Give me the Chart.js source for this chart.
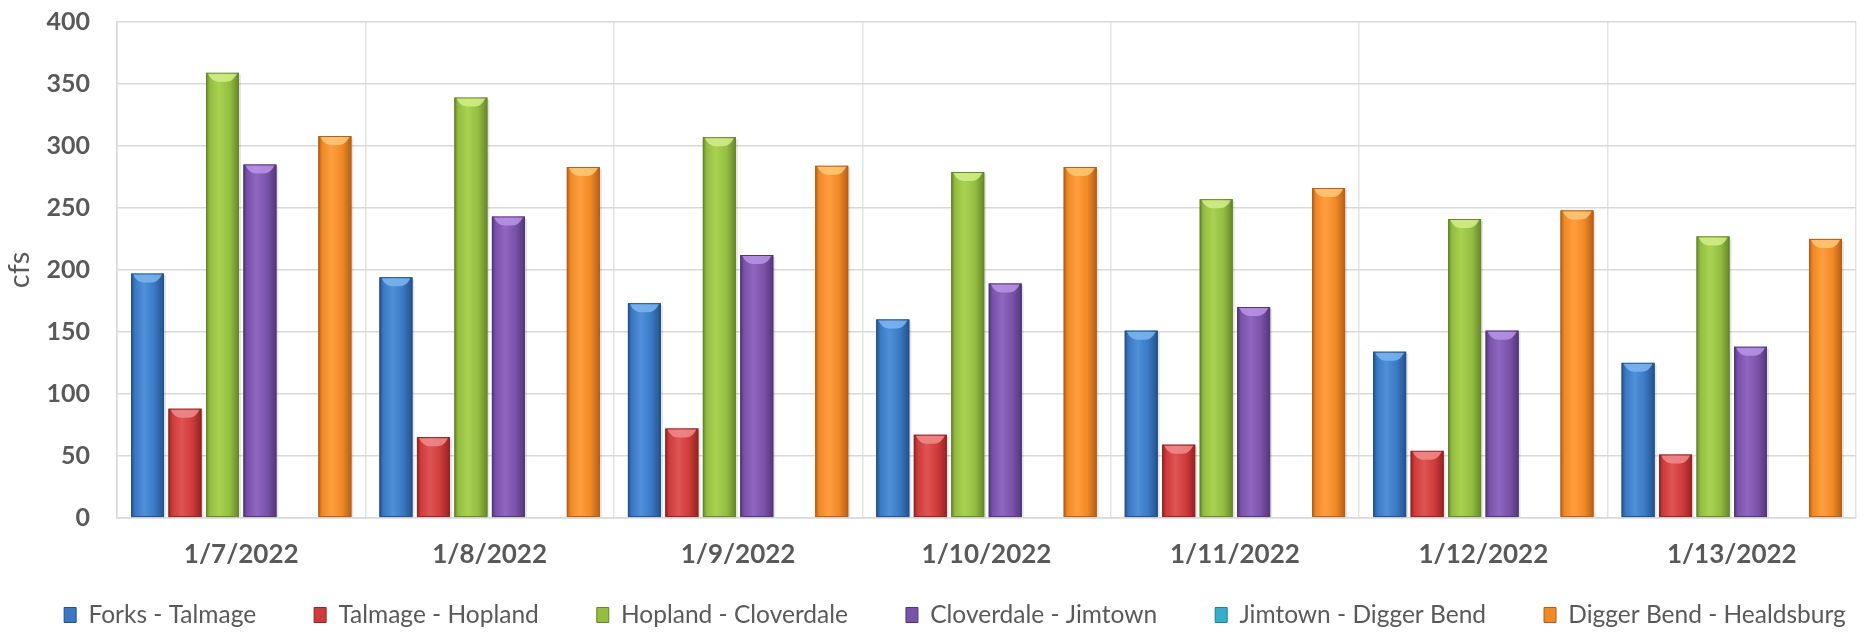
<!DOCTYPE html>
<html>
<head>
<meta charset="utf-8">
<script src="https://cdn.jsdelivr.net/npm/chart.js@4/dist/chart.umd.min.js"></script>
<style>
  html, body { margin: 0; padding: 0; background: #ffffff; }
  #wrap { width: 1870px; height: 637px; }
</style>
</head>
<body>
<div id="wrap"><canvas id="c" width="1870" height="637"></canvas></div>
<script>
// ---- data ----
const categories = ['1/7/2022', '1/8/2022', '1/9/2022', '1/10/2022', '1/11/2022', '1/12/2022', '1/13/2022'];
const seriesNames = ['Forks - Talmage', 'Talmage - Hopland', 'Hopland - Cloverdale', 'Cloverdale - Jimtown', 'Jimtown - Digger Bend', 'Digger Bend - Healdsburg'];
const forksTalmage       = [197, 194, 173, 160, 151, 134, 125];
const talmageHopland     = [88, 65, 72, 67, 59, 54, 51];
const hoplandCloverdale  = [359, 339, 307, 279, 257, 241, 227];
const cloverdaleJimtown  = [285, 243, 212, 189, 170, 151, 138];
const jimtownDiggerBend  = [null, null, null, null, null, null, null];
const diggerBendHealdsburg = [308, 283, 284, 283, 266, 248, 225];
const yTicks = [0, 50, 100, 150, 200, 250, 300, 350, 400];
const yTitle = 'cfs';

// ---- styles ----
const palettes = [
  { main: '#3A78C3', edge: '#24518A', light: '#4F90D8', cap: '#7DB6F0' },
  { main: '#CF3B3B', edge: '#922424', light: '#DE5454', cap: '#F08C8C' },
  { main: '#94BE42', edge: '#66862A', light: '#A8D250', cap: '#D2EE8A' },
  { main: '#7B52AA', edge: '#523778', light: '#8F66C0', cap: '#B894E6' },
  { main: '#36AECB', edge: '#227E98', light: '#50C4DE', cap: '#8EE0F2' },
  { main: '#F08926', edge: '#B45F18', light: '#FF9E3E', cap: '#FFC878' }
];
const seriesData = [forksTalmage, talmageHopland, hoplandCloverdale, cloverdaleJimtown, jimtownDiggerBend, diggerBendHealdsburg];

const FONT = "Lato, 'Open Sans', sans-serif";
const TXT = '#595959';

const barLook = {
  id: 'barLook',
  afterDatasetsDraw(chart) {
    const ctx = chart.ctx;
    chart.data.datasets.forEach((ds, i) => {
      const meta = chart.getDatasetMeta(i);
      if (meta.hidden) return;
      const p = palettes[i];
      meta.data.forEach((bar, j) => {
        if (ds.data[j] == null) return;
        const { x, y, base, width } = bar.getProps(['x', 'y', 'base', 'width'], true);
        const l = x - width / 2, r = x + width / 2;
        const h = base - y;
        ctx.save();
        ctx.fillStyle = 'rgba(0,0,0,0.10)';
        ctx.fillRect(r, y + 2, 2, h - 2);
        const g = ctx.createLinearGradient(l, 0, r, 0);
        g.addColorStop(0, p.edge);
        g.addColorStop(0.12, p.main);
        g.addColorStop(0.4, p.light);
        g.addColorStop(0.72, p.main);
        g.addColorStop(1, p.edge);
        ctx.fillStyle = g;
        ctx.fillRect(l, y, width, h);
        ctx.strokeStyle = p.edge;
        ctx.lineWidth = 1;
        ctx.strokeRect(l + 0.5, y + 0.5, width - 1, h - 1);
        if (h > 10) {
          ctx.beginPath();
          ctx.moveTo(l + 2, y + 1);
          ctx.lineTo(r - 2, y + 1);
          ctx.quadraticCurveTo(r - 6, y + 9, x + width * 0.12, y + 9);
          ctx.lineTo(x - width * 0.12, y + 9);
          ctx.quadraticCurveTo(l + 6, y + 9, l + 2, y + 1);
          ctx.closePath();
          ctx.fillStyle = p.cap;
          ctx.globalAlpha = 0.85;
          ctx.fill();
        }
        ctx.restore();
      });
    });
  }
};

const LEGEND_FONT = 24.5;
const LEGEND_PAD = 58;
const legendPlace = {
  id: 'legendPlace',
  beforeInit(chart) {
    const origFit = chart.legend.fit;
    chart.legend.fit = function () {
      const mw = this.maxWidth;
      this.maxWidth = 4000;
      origFit.call(this);
      this.maxWidth = mw;
      this.width = mw;
      this.height = 62;
    };
  },
  afterLayout(chart) {
    const lg = chart.legend;
    lg.top = 615 - LEGEND_PAD - LEGEND_FONT / 2;
    lg.bottom = chart.height;
    lg.left = -100;
    lg.right = chart.width + 140;
  }
};

const datasets = seriesNames.map((name, i) => ({
  label: name,
  data: seriesData[i],
  backgroundColor: palettes[i].main,
  borderColor: palettes[i].edge,
  borderWidth: 1
}));

new Chart(document.getElementById('c'), {
  type: 'bar',
  data: { labels: categories, datasets },
  plugins: [barLook, legendPlace],
  options: {
    responsive: false,
    animation: false,
    devicePixelRatio: 1,
    layout: { padding: { top: 22, right: 14, left: 0, bottom: 0 } },
    datasets: { bar: { categoryPercentage: 0.905, barPercentage: 0.88 } },
    plugins: {
      legend: {
        position: 'bottom',
        labels: {
          font: { family: FONT, size: LEGEND_FONT },
          color: TXT,
          boxWidth: 12,
          boxHeight: 15,
          padding: LEGEND_PAD,
          generateLabels(chart) {
            return chart.data.datasets.map((ds, i) => ({
              text: ds.label,
              fillStyle: palettes[i].main,
              strokeStyle: palettes[i].edge,
              lineWidth: 1,
              fontColor: TXT,
              hidden: false,
              datasetIndex: i
            }));
          }
        }
      },
      tooltip: { enabled: false }
    },
    scales: {
      x: {
        grid: { color: '#e3e3e3', lineWidth: 1.5, drawTicks: true, tickLength: 16, tickColor: 'rgba(0,0,0,0)', offset: true },
        border: { color: '#d9d9d9', width: 1.5 },
        ticks: { font: { family: FONT, size: 26, weight: 'bold' }, color: TXT, padding: 5 }
      },
      y: {
        min: 0,
        max: 400,
        afterBuildTicks(scale) { scale.ticks = yTicks.map(v => ({ value: v })); },
        grid: { color: '#d9d9d9', lineWidth: 1.5, drawTicks: true, tickLength: 22, tickColor: 'rgba(0,0,0,0)' },
        border: { color: '#d9d9d9', width: 1.5 },
        ticks: { font: { family: FONT, size: 25, weight: 'bold' }, color: TXT, padding: 5 },
        title: { display: true, text: yTitle, font: { family: FONT, size: 29 }, color: TXT, padding: { top: 2, bottom: 0 } },
        afterFit(scale) { scale.width = 117; }
      }
    }
  }
});
</script>
</body>
</html>
